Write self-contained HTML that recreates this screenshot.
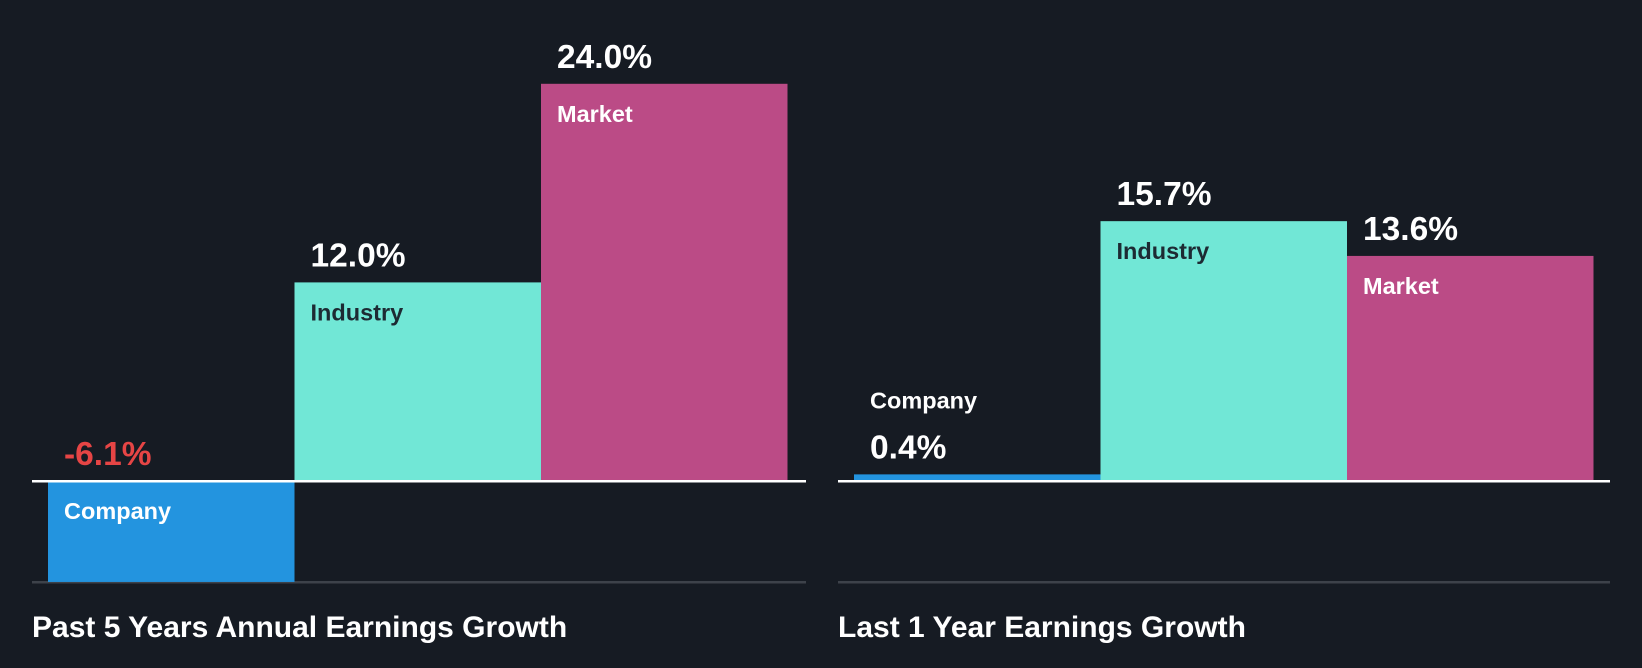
<!DOCTYPE html>
<html><head><meta charset="utf-8"><style>
html,body{margin:0;padding:0;background:#161b23;}
svg{display:block;font-family:"Liberation Sans",sans-serif;font-weight:bold;}
</style></head><body>
<svg id="chart" width="1642" height="668" viewBox="0 0 1642 668" xmlns="http://www.w3.org/2000/svg">
<rect width="1642" height="668" fill="#161b23"/>
</svg>
<script>
const categories = ["Company","Industry","Market"];
const past5Values = [-6.1, 12.0, 24.0];
const last1Values = [0.4, 15.7, 13.6];
const panelTitles = ["Past 5 Years Annual Earnings Growth","Last 1 Year Earnings Growth"];
const colors = ["#2394df","#71e7d6","#bb4b86"];
const svg = document.getElementById('chart');
const NS = "http://www.w3.org/2000/svg";
const baseY = 481, pxPer = 16.55;
function y(v){ return baseY - v*pxPer; }
function mk(tag, attrs, text){
  const e = document.createElementNS(NS, tag);
  for (const k in attrs) e.setAttribute(k, attrs[k]);
  if (text !== undefined) e.textContent = text;
  svg.appendChild(e); return e;
}
const panels = [
  {x0:32, x1:806, barX:48, values:past5Values, title:panelTitles[0], key:'past-5-years'},
  {x0:838, x1:1610, barX:854, values:last1Values, title:panelTitles[1], key:'last-1-year'}
];
const barW = 246.5;
panels.forEach(p => {
  const ax = mk('rect',{x:p.x0,y:581,width:p.x1-p.x0,height:2.5,fill:'#3d424a'});
  
  
  p.values.forEach((v,i) => {
    const bx = p.barX + i*barW;
    const top = Math.min(y(v), baseY), h = Math.abs(y(v)-baseY);
    const r = mk('rect',{x:bx,y:top,width:barW,height:h,fill:colors[i]});
    
    
    const valTxt = v.toFixed(1)+'%';
    const tx = bx+16;
    let valY, labY, labFill;
    if (v < 0) {
      valY = baseY - 16; labY = baseY + 38; labFill = '#ffffff';
    } else if (h < 60) {
      valY = top - 16; labY = top - 66; labFill = '#ffffff';
    } else {
      valY = top - 16; labY = top + 38; labFill = i===1 ? '#1d2a33' : '#ffffff';
    }
    const vt = mk('text',{x:tx,y:valY,'font-size':33.5,fill:v<0?'#e64545':'#ffffff'},valTxt);
    
    
    const lt = mk('text',{x:tx,y:labY,'font-size':23.5,fill:labFill},categories[i]);
    
    
  });
  const zl = mk('rect',{x:p.x0,y:baseY-1,width:p.x1-p.x0,height:2.5,fill:'#ffffff'});
  
  
  const tt = mk('text',{x:p.x0,y:637,'font-size':30,fill:'#ffffff'},p.title);
  
  
});
</script>
</body></html>
